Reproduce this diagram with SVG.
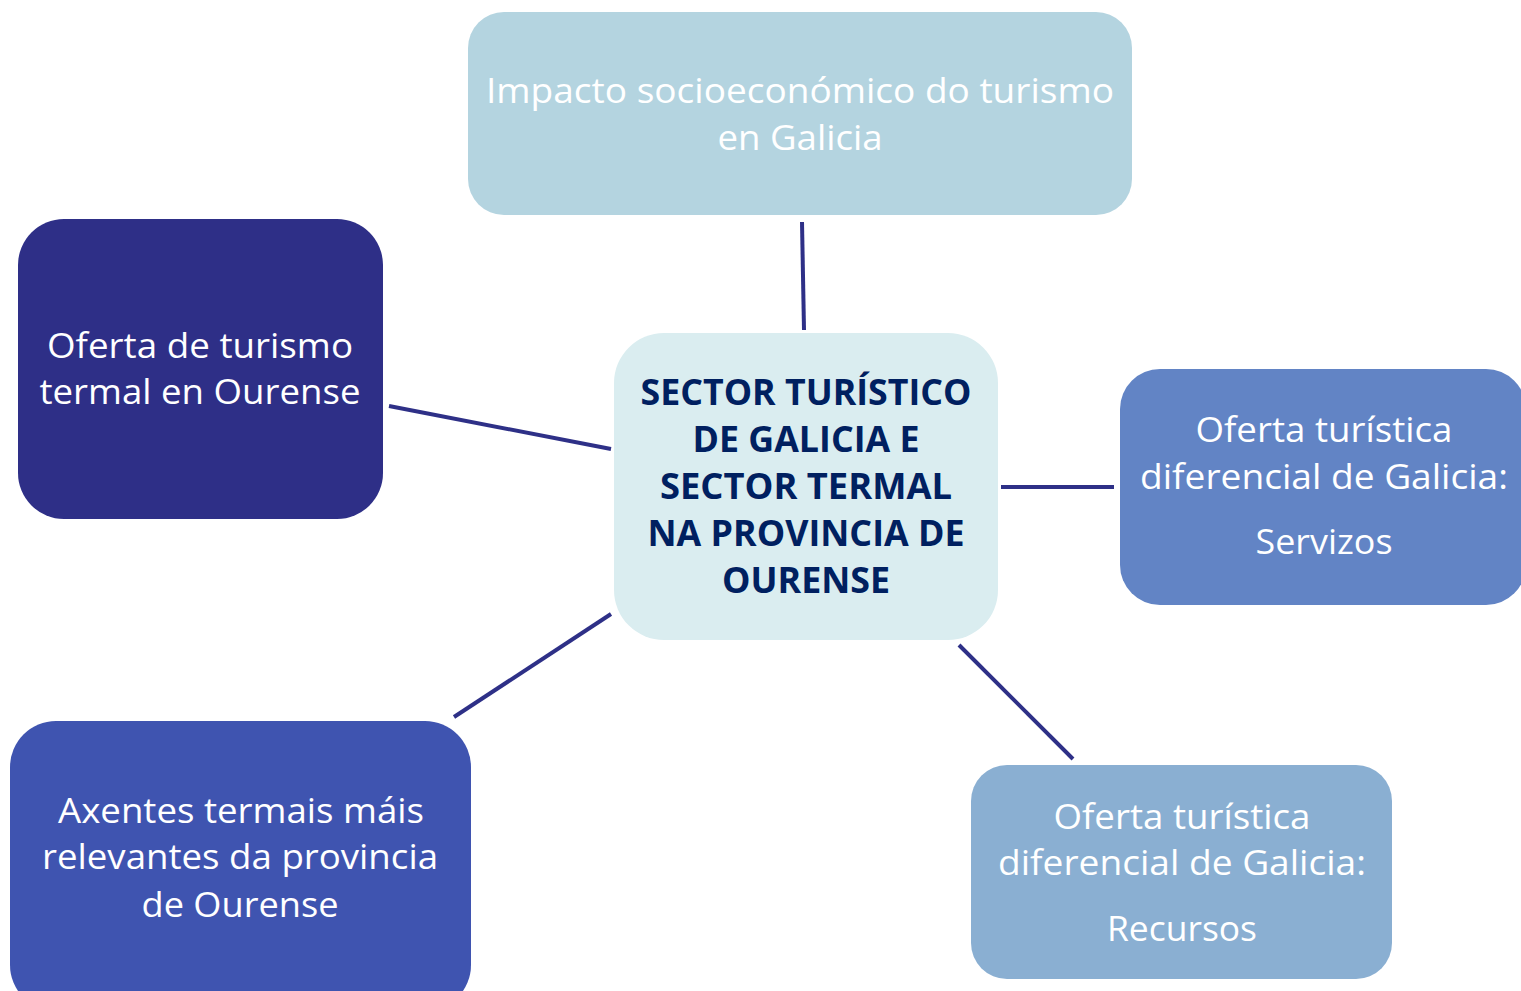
<svg xmlns="http://www.w3.org/2000/svg" width="1521" height="991" viewBox="0 0 1521 991">
<style>
.t{font-family:"Open Sans","Noto Sans",sans-serif;font-size:35px;fill:#ffffff;text-anchor:middle}
.c{font-family:"Open Sans","Noto Sans",sans-serif;font-size:35px;font-weight:bold;fill:#002060;text-anchor:middle}
.ln{stroke:#2e3087;stroke-width:4;fill:none}
</style>
<rect width="1521" height="991" fill="#ffffff"/>
<g id="connectors">
<line class="ln" x1="802" y1="222" x2="804" y2="330"/>
<line class="ln" x1="389" y1="406" x2="611" y2="449"/>
<line class="ln" x1="1001" y1="487" x2="1114" y2="487"/>
<line class="ln" x1="454" y1="717" x2="611" y2="614"/>
<line class="ln" x1="959" y1="645" x2="1073" y2="759"/>
</g>
<g id="top">
<rect x="468" y="12" width="664" height="203" rx="36" fill="#b4d4e0"/>
<text class="t" x="800" y="103" textLength="628" lengthAdjust="spacingAndGlyphs">Impacto socioeconómico do turismo</text>
<text class="t" x="800" y="150" textLength="165" lengthAdjust="spacingAndGlyphs">en Galicia</text>
</g>
<g id="center">
<rect x="614" y="333" width="384" height="307" rx="50" fill="#daedf0"/>
<text class="c" x="806" y="405" textLength="331" lengthAdjust="spacingAndGlyphs">SECTOR TURÍSTICO</text>
<text class="c" x="806" y="452" textLength="227" lengthAdjust="spacingAndGlyphs">DE GALICIA E</text>
<text class="c" x="806" y="499" textLength="292" lengthAdjust="spacingAndGlyphs">SECTOR TERMAL</text>
<text class="c" x="806" y="546" textLength="317" lengthAdjust="spacingAndGlyphs">NA PROVINCIA DE</text>
<text class="c" x="806" y="593" textLength="168" lengthAdjust="spacingAndGlyphs">OURENSE</text>
</g>
<g id="left">
<rect x="18" y="219" width="365" height="300" rx="46" fill="#2e2f87"/>
<text class="t" x="200" y="358" textLength="306" lengthAdjust="spacingAndGlyphs">Oferta de turismo</text>
<text class="t" x="200" y="404" textLength="321" lengthAdjust="spacingAndGlyphs">termal en Ourense</text>
</g>
<g id="right">
<rect x="1120" y="369" width="406" height="236" rx="40" fill="#6284c5"/>
<text class="t" x="1324" y="442" textLength="257" lengthAdjust="spacingAndGlyphs">Oferta turística</text>
<text class="t" x="1324" y="489" textLength="368" lengthAdjust="spacingAndGlyphs">diferencial de Galicia:</text>
<text class="t" x="1324" y="554" textLength="137" lengthAdjust="spacingAndGlyphs">Servizos</text>
</g>
<g id="bottom-right">
<rect x="971" y="765" width="421" height="214" rx="36" fill="#8aafd2"/>
<text class="t" x="1182" y="829" textLength="257" lengthAdjust="spacingAndGlyphs">Oferta turística</text>
<text class="t" x="1182" y="875" textLength="368" lengthAdjust="spacingAndGlyphs">diferencial de Galicia:</text>
<text class="t" x="1182" y="941" textLength="150" lengthAdjust="spacingAndGlyphs">Recursos</text>
</g>
<g id="bottom-left">
<rect x="10" y="721" width="461" height="290" rx="46" fill="#3f54b0"/>
<text class="t" x="241" y="823" textLength="366" lengthAdjust="spacingAndGlyphs">Axentes termais máis</text>
<text class="t" x="240" y="869" textLength="396" lengthAdjust="spacingAndGlyphs">relevantes da provincia</text>
<text class="t" x="240" y="917" textLength="197" lengthAdjust="spacingAndGlyphs">de Ourense</text>
</g>
</svg>
